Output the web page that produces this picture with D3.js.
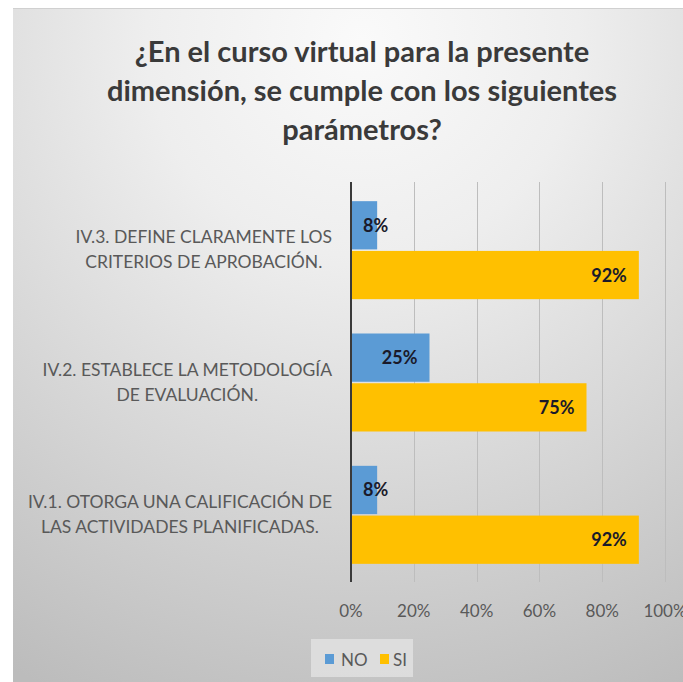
<!DOCTYPE html>
<html><head><meta charset="utf-8">
<script src="https://cdn.jsdelivr.net/npm/d3@7"></script>
<style>
html,body{margin:0;padding:0;background:#fff;}
svg{display:block;}
</style></head>
<body>
<script>
const titleLines = ["¿En el curso virtual para la presente", "dimensión, se cumple con los siguientes", "parámetros?"];
const categories = ["IV.3", "IV.2", "IV.1"];
const categoryLabels = [
  ["IV.3. DEFINE CLARAMENTE LOS", "CRITERIOS DE APROBACIÓN."],
  ["IV.2. ESTABLECE LA METODOLOGÍA", "DE EVALUACIÓN."],
  ["IV.1. OTORGA UNA CALIFICACIÓN DE", "LAS ACTIVIDADES PLANIFICADAS."]
];
const seriesNames = ["NO", "SI"];
const noValues = [0.0833, 0.25, 0.0833];
const siValues = [0.9167, 0.75, 0.9167];
const xTicks = [0, 0.2, 0.4, 0.6, 0.8, 1.0];
const colors = {NO: "#5B9BD5", SI: "#FFC000"};

const W = 683, H = 682;
const svg = d3.select("body").append("svg").attr("width", W).attr("height", H);
const defs = svg.append("defs");
const rg = defs.append("radialGradient").attr("id", "bg")
  .attr("gradientUnits", "userSpaceOnUse")
  .attr("cx", 362).attr("cy", 40).attr("r", 720);
rg.append("stop").attr("offset", "0%").attr("stop-color", "#fafafa");
rg.append("stop").attr("offset", "30%").attr("stop-color", "#eeeeee");
rg.append("stop").attr("offset", "100%").attr("stop-color", "#bcbcbc");

svg.append("rect").attr("x", 13).attr("y", 8).attr("width", W - 13).attr("height", H - 8)
  .attr("fill", "url(#bg)");
svg.append("line").attr("x1", 13).attr("x2", W).attr("y1", 8.5).attr("y2", 8.5)
  .attr("stroke", "#d0d0d0").attr("stroke-width", 1);

// Title
const title = svg.append("text").attr("text-anchor", "middle")
  .attr("font-family", "Lato, 'Open Sans', sans-serif").attr("font-weight", "bold")
  .attr("font-size", 29).attr("fill", "#3a3a3a");
titleLines.forEach((t, i) => {
  title.append("tspan").attr("x", 362).attr("y", 62 + i * 39).text(t);
});

// Scales
const x = d3.scaleLinear().domain([0, 1]).range([351, 665]);
const y = d3.scaleBand().domain(categories).range([184, 581]);
const yi = d3.scaleBand().domain(seriesNames).range([0, 98]).paddingInner(0.03);
const off = (y.bandwidth() - 98) / 2;

// Gridlines
svg.append("g").selectAll("line").data(xTicks.slice(1)).join("line")
  .attr("x1", d => Math.round(x(d)) + 0.5).attr("x2", d => Math.round(x(d)) + 0.5)
  .attr("y1", 182).attr("y2", 582)
  .attr("stroke", "#bdbdbd").attr("stroke-width", 1);

// Bars
const rows = categories.map((c, i) => ({cat: c, NO: noValues[i], SI: siValues[i]}));
const g = svg.append("g");
rows.forEach(r => {
  seriesNames.forEach(s => {
    const by = y(r.cat) + off + yi(s);
    g.append("rect").attr("x", x(0)).attr("y", by)
      .attr("width", x(r[s]) - x(0)).attr("height", yi.bandwidth())
      .attr("fill", colors[s]);
    const lbl = g.append("text")
      .attr("font-family", "Lato, 'Open Sans', sans-serif").attr("font-weight", "bold")
      .attr("font-size", 18).attr("fill", "#1a1a2a")
      .attr("text-anchor", "end")
      .attr("y", by + yi.bandwidth() / 2 + 6.5)
      .text(Math.round(r[s] * 100) + "%");
    const w = lbl.node().getComputedTextLength();
    const xe = Math.max(x(r[s]) - 12, x(0) + 12 + w);
    lbl.attr("x", xe);
  });
});

// Axis line (category axis)
svg.append("line").attr("x1", 351).attr("x2", 351).attr("y1", 182).attr("y2", 582)
  .attr("stroke", "#3a3a3a").attr("stroke-width", 2);

// X tick labels
svg.append("g").selectAll("text").data(xTicks).join("text")
  .attr("x", d => x(d)).attr("y", 617).attr("text-anchor", "middle")
  .attr("font-family", "Lato, 'Open Sans', sans-serif").attr("font-size", 17)
  .attr("fill", "#595959")
  .text(d => Math.round(d * 100) + "%");

// Category labels
categories.forEach((c, i) => {
  const cy = y(c) + y.bandwidth() / 2;
  const t = svg.append("text").attr("text-anchor", "middle")
    .attr("font-family", "Lato, 'Open Sans', sans-serif").attr("font-size", 17.5)
    .attr("fill", "#595959");
  const lines = categoryLabels[i];
  const spans = lines.map((l, j) => t.append("tspan").attr("y", cy - 7 + j * 25).text(l));
  const widths = spans.map(s => s.node().getComputedTextLength());
  const maxW = Math.max(...widths);
  const center = 332 - maxW / 2;
  spans.forEach(s => s.attr("x", center));
});

// Legend
const lg = svg.append("g");
lg.append("rect").attr("x", 311).attr("y", 639).attr("width", 102).attr("height", 38)
  .attr("fill", "#e2e2e2").attr("opacity", 0.8);
const items = [{n: "NO", mx: 325, tx: 341}, {n: "SI", mx: 380, tx: 393}];
items.forEach(it => {
  lg.append("rect").attr("x", it.mx).attr("y", 654).attr("width", 9).attr("height", 10)
    .attr("fill", colors[it.n]);
  lg.append("text").attr("x", it.tx).attr("y", 666)
    .attr("font-family", "Lato, 'Open Sans', sans-serif").attr("font-size", 17)
    .attr("fill", "#595959").text(it.n);
});
</script>
</body></html>
